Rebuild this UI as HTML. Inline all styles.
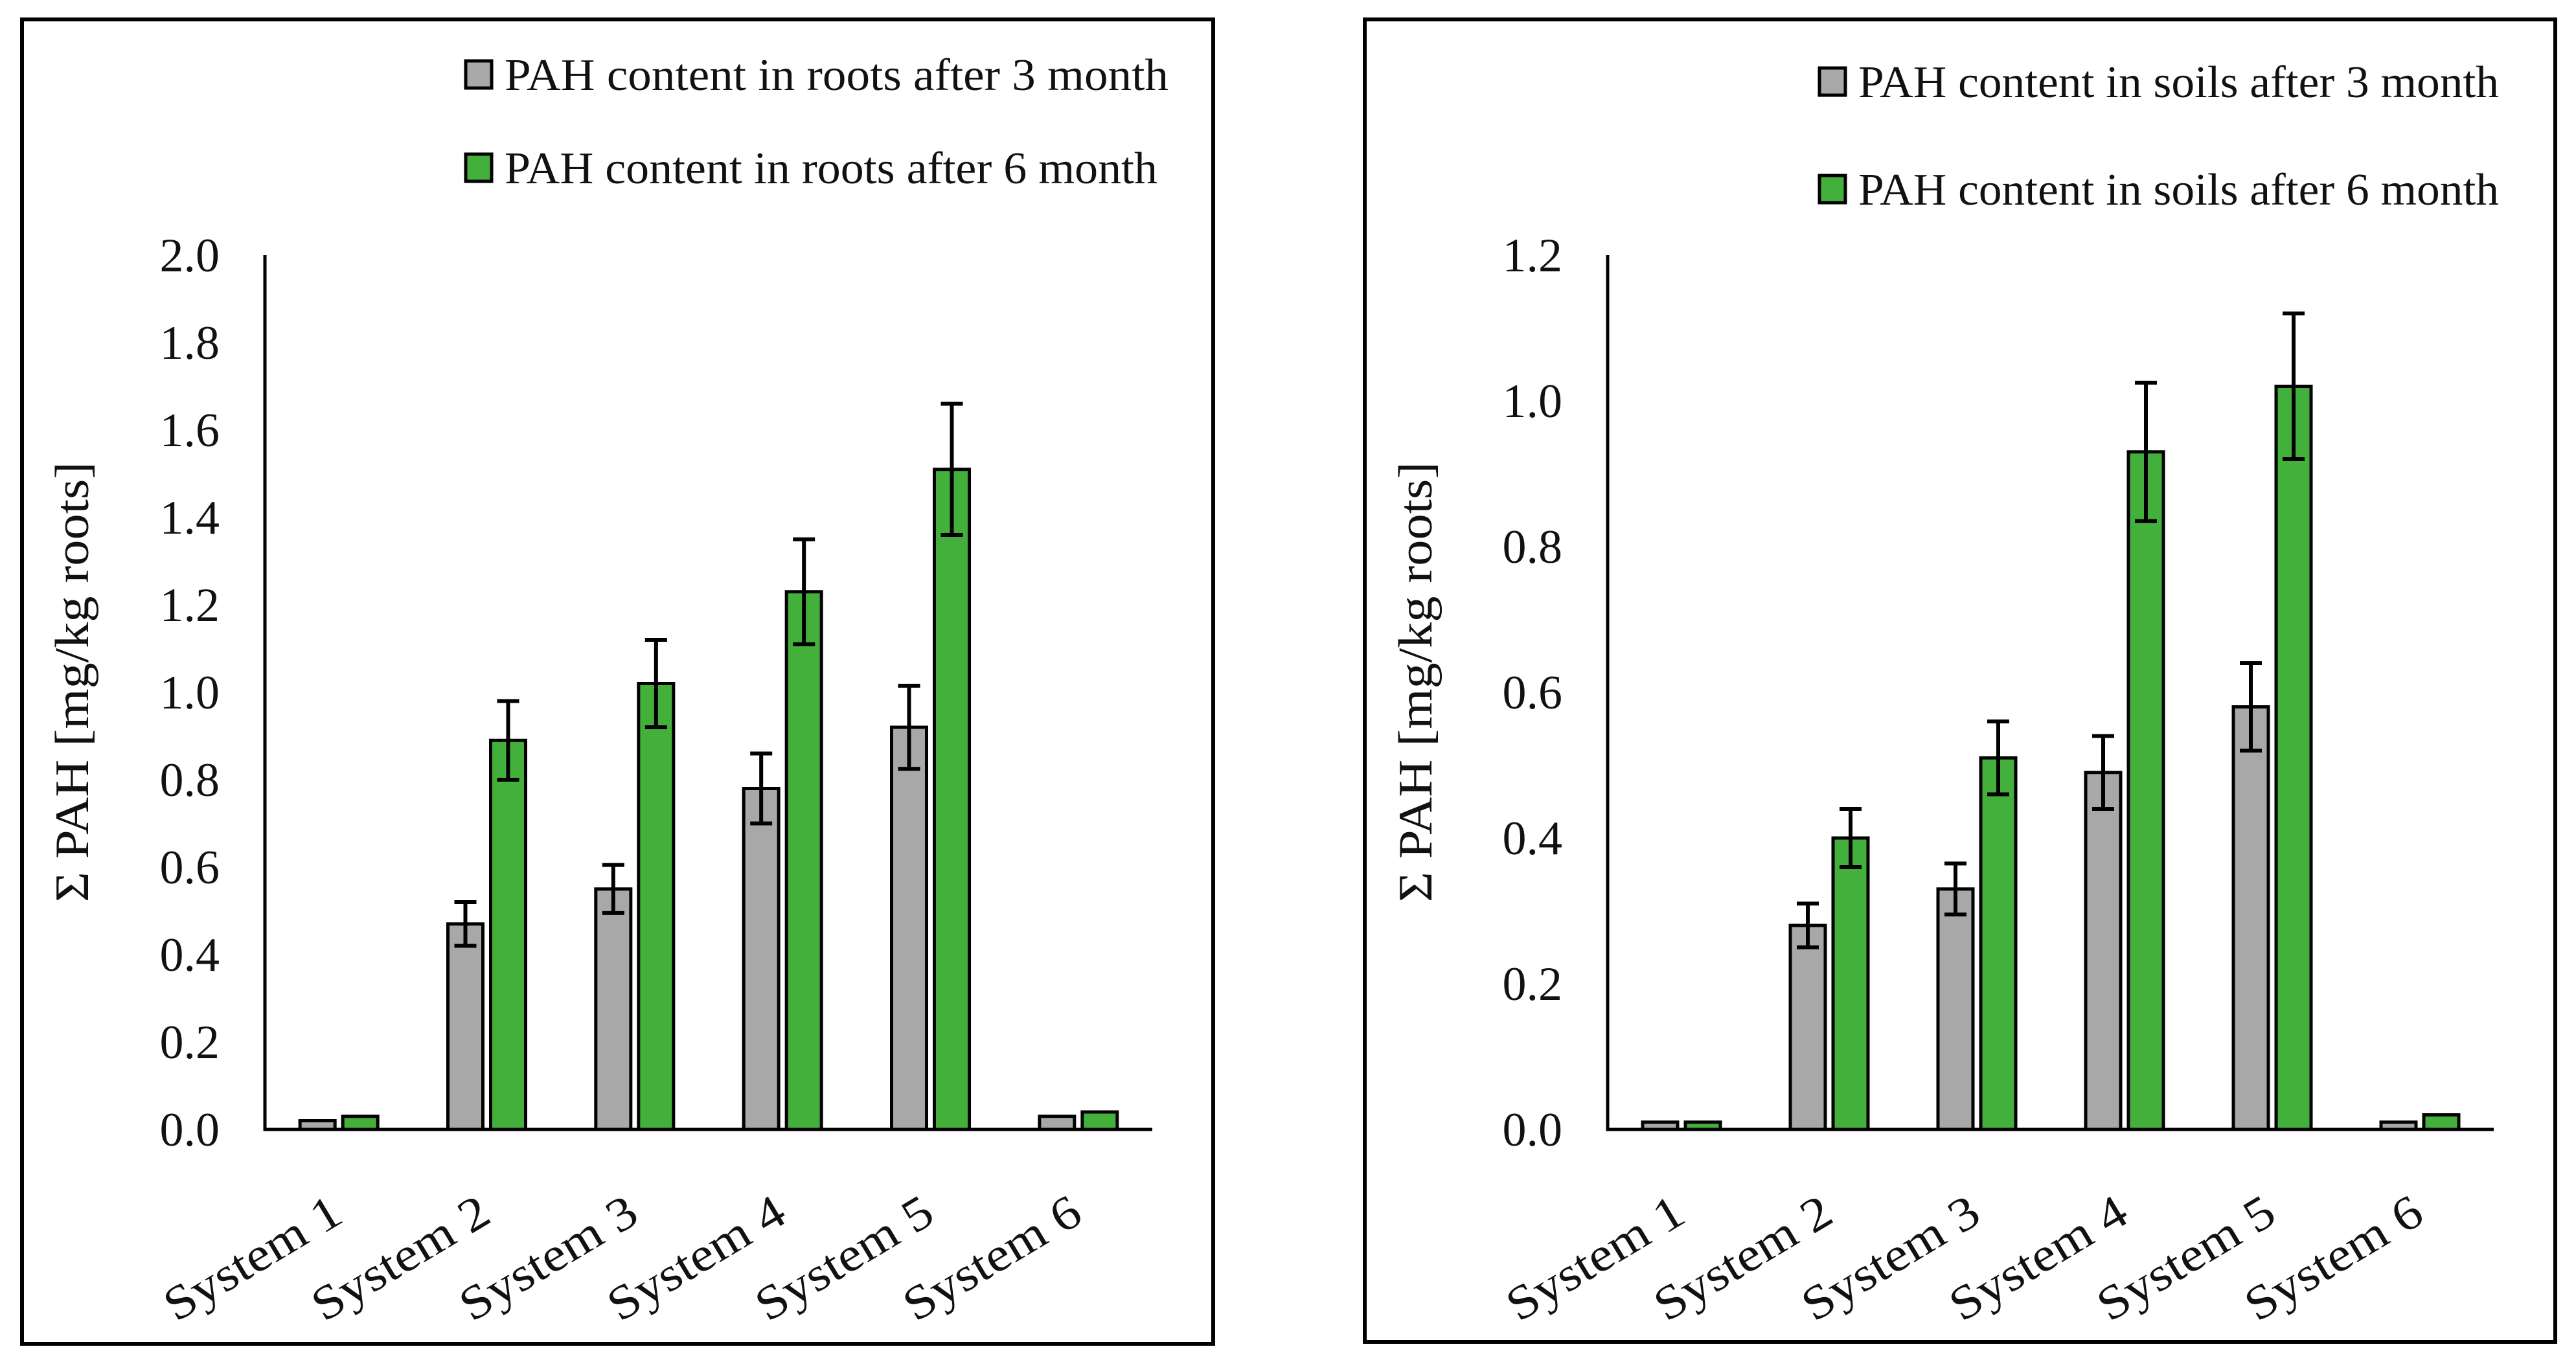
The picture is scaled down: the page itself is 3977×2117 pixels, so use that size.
<!DOCTYPE html>
<html><head><meta charset="utf-8"><style>
html,body{margin:0;padding:0;background:#fff;}
svg{display:block;font-family:"Liberation Serif",serif;}
</style></head><body>
<svg id="svg" width="3977" height="2117" viewBox="0 0 3977 2117" xmlns="http://www.w3.org/2000/svg"></svg>
<script>
const categories = ["System 1","System 2","System 3","System 4","System 5","System 6"];
const rootsAfter3 = [0.02,0.47,0.55,0.78,0.92,0.03];
const rootsAfter3Err = [0,0.05,0.055,0.08,0.095,0];
const rootsAfter6 = [0.03,0.89,1.02,1.23,1.51,0.04];
const rootsAfter6Err = [0,0.09,0.10,0.12,0.15,0];
const rootsTicks = ["0.0","0.2","0.4","0.6","0.8","1.0","1.2","1.4","1.6","1.8","2.0"];
const soilsAfter3 = [0.01,0.28,0.33,0.49,0.58,0.01];
const soilsAfter3Err = [0,0.03,0.035,0.05,0.06,0];
const soilsAfter6 = [0.01,0.40,0.51,0.93,1.02,0.02];
const soilsAfter6Err = [0,0.04,0.05,0.095,0.10,0];
const soilsTicks = ["0.0","0.2","0.4","0.6","0.8","1.0","1.2"];
const rootsLegend = ["PAH content in roots  after 3 month","PAH content in roots after 6 month"];
const soilsLegend = ["PAH content in soils after 3 month","PAH content in soils after 6 month"];

const NS="http://www.w3.org/2000/svg";
const svg=document.getElementById('svg');
function mk(tag,attrs,parent,text){const e=document.createElementNS(NS,tag);for(const k in attrs)e.setAttribute(k,attrs[k]);if(text!==undefined)e.textContent=text;(parent||svg).appendChild(e);return e;}

function drawChart(cfg){
  const g=mk('g',{});
  
  
  const fr=mk('rect',{x:cfg.frame[0],y:cfg.frame[1],width:cfg.frame[2]-cfg.frame[0],height:cfg.frame[3]-cfg.frame[1],fill:'#fff',stroke:'#000','stroke-width':6},g);
  
  
  const x0=cfg.axisX, x1=cfg.axisRight, yTop=394, yZero=1744;
  const maxV=parseFloat(cfg.ticks[cfg.ticks.length-1]);
  const yS=v=>yZero-(v/maxV)*(yZero-yTop);
  const cw=(x1-x0)/categories.length;
  const xC=i=>x0+cw*(i+0.5);
  cfg.ticks.forEach(t=>{
    const tl=mk('text',{x:x0-70,y:yS(parseFloat(t))+25,'text-anchor':'end','font-size':74,fill:'#111'},g,t);
    
    
  });
  const series=[[cfg.a,cfg.aErr,'#a8a8a8',-60],[cfg.b,cfg.bErr,'#44b03c',6]];
  series.forEach((s,si)=>{
    categories.forEach((c,i)=>{
      const v=s[0][i], x=xC(i)+s[3], y=yS(v);
      const r=mk('rect',{x:x,y:y,width:54,height:yZero-y,fill:s[2],stroke:'#000','stroke-width':5},g);
      
      
      const e=s[1][i];
      if(e>0){
        const cx=x+27, yh=yS(v+e), yl=yS(v-e);
        const eg=mk('g',{stroke:'#000','stroke-width':6},g);
        
        
        mk('line',{x1:cx,y1:yh,x2:cx,y2:yl},eg);
        mk('line',{x1:cx-17,y1:yh,x2:cx+17,y2:yh},eg);
        mk('line',{x1:cx-17,y1:yl,x2:cx+17,y2:yl},eg);
      }
    });
  });
  const ya=mk('line',{x1:x0,y1:yTop,x2:x0,y2:yZero+2,stroke:'#000','stroke-width':5},g);
  
  
  const xa=mk('line',{x1:x0-2,y1:yZero,x2:x1,y2:yZero,stroke:'#000','stroke-width':5},g);
  
  
  categories.forEach((c,i)=>{
    const ax=xC(i)+10, ay=1885;
    const t=mk('text',{x:ax,y:ay,'text-anchor':'end','font-size':74,fill:'#111',textLength:305,lengthAdjust:'spacingAndGlyphs',transform:`rotate(-31 ${ax} ${ay})`},g,c);
    
    
  });
  const tx=cfg.titleX, ty=1053;
  const yt=mk('text',{x:tx,y:ty,'text-anchor':'middle','font-size':74,fill:'#111',textLength:680,lengthAdjust:'spacingAndGlyphs',transform:`rotate(-90 ${tx} ${ty})`,dy:25},g,'Σ PAH [mg/kg roots]');
  
  
  const cols=['#a8a8a8','#44b03c'];
  cfg.legend.forEach((txt,k)=>{
    const lg=mk('g',{},g);
    
    
    const cy=cfg.legendY[k];
    mk('rect',{x:cfg.legendX,y:cy-21,width:40,height:42,fill:cols[k],stroke:'#000','stroke-width':5},lg);
    mk('text',{x:cfg.legendX+60,y:cy+24,'font-size':70,fill:'#111',textLength:cfg.legendW[k],lengthAdjust:'spacingAndGlyphs'},lg,txt);
  });
}

drawChart({name:'roots-chart',frame:[34,30,1873,2075],axisX:409,axisRight:1779,ticks:rootsTicks,
  a:rootsAfter3,aErr:rootsAfter3Err,b:rootsAfter6,bErr:rootsAfter6Err,titleX:111,
  legend:rootsLegend,legendX:719,legendY:[115,259],legendW:[1025,1008]});
drawChart({name:'soils-chart',frame:[2107,30,3945,2072],axisX:2482,axisRight:3850,ticks:soilsTicks,
  a:soilsAfter3,aErr:soilsAfter3Err,b:soilsAfter6,bErr:soilsAfter6Err,titleX:2185,
  legend:soilsLegend,legendX:2809,legendY:[126,292],legendW:[989,989]});
</script>
</body></html>
